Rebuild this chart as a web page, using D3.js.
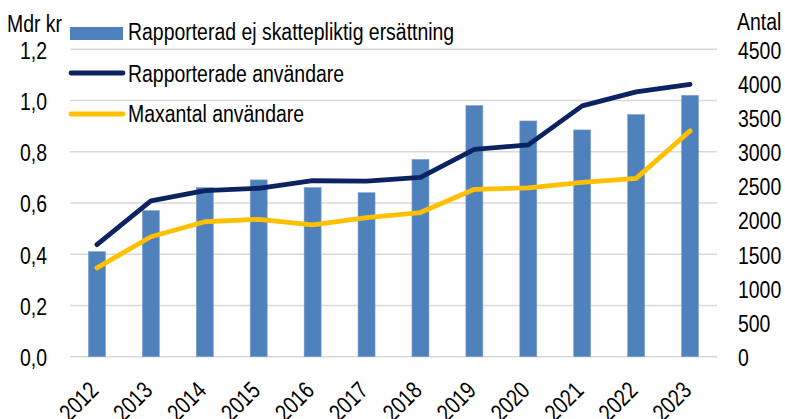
<!DOCTYPE html>
<html>
<head>
<meta charset="utf-8">
<script src="https://cdn.jsdelivr.net/npm/d3@7"></script>
<style>
  html, body { margin: 0; padding: 0; background: #fff; }
  svg { display: block; }
  text { font-family: "Liberation Sans", Arial, sans-serif; fill: #000; }
</style>
</head>
<body>
<svg id="chart" width="785" height="419"></svg>
<script>
const years = ["2012","2013","2014","2015","2016","2017","2018","2019","2020","2021","2022","2023"];
const ersattning = [0.41, 0.57, 0.66, 0.69, 0.66, 0.64, 0.77, 0.98, 0.92, 0.885, 0.945, 1.02];
const rapporterade = [1640, 2280, 2430, 2465, 2575, 2570, 2625, 3035, 3100, 3670, 3875, 3985];
const maxantal = [1300, 1755, 1975, 2010, 1930, 2035, 2110, 2450, 2470, 2550, 2610, 3305];
const leftTicks = [0, 0.2, 0.4, 0.6, 0.8, 1.0, 1.2];
const rightTicks = [0, 500, 1000, 1500, 2000, 2500, 3000, 3500, 4000, 4500];
const seriesNames = ["Rapporterad ej skattepliktig ersättning", "Rapporterade användare", "Maxantal användare"];
const leftTitle = "Mdr kr";
const rightTitle = "Antal";

const colors = { bar: "#4f81bd", dark: "#0b2461", yellow: "#ffc000", grid: "#d9d9d9" };
const fs = 24;
const sx = 0.81; // horizontal condensing to mimic a narrow typeface

const svg = d3.select("#chart");
const plot = { left: 70, right: 717, top: 49.2, bottom: 356.7 };

const x = d3.scaleBand().domain(years).range([plot.left, plot.right]).padding(0);
const yL = d3.scaleLinear().domain([0, 1.2]).range([plot.bottom, plot.top]);
const yR = d3.scaleLinear().domain([0, 4500]).range([plot.bottom, plot.top]);

const loc = d3.formatLocale({ decimal: ",", thousands: "", grouping: [3], currency: ["", ""] });
const fmtL = loc.format(".1f");
const fmtR = loc.format("d");

const tr = (px, py, rot) => `translate(${px},${py})` + (rot ? ` rotate(${rot})` : "") + ` scale(${sx},1)`;

// gridlines
svg.append("g").selectAll("line").data(leftTicks).join("line")
  .attr("x1", plot.left).attr("x2", plot.right)
  .attr("y1", d => yL(d)).attr("y2", d => yL(d))
  .attr("stroke", colors.grid).attr("stroke-width", 1.5);

// left axis labels
svg.append("g").selectAll("text").data(leftTicks).join("text")
  .attr("transform", d => tr(47, yL(d) + 1)).attr("dy", "0.35em")
  .attr("text-anchor", "end").style("font-size", fs + "px")
  .text(d => fmtL(d));

// right axis labels
svg.append("g").selectAll("text").data(rightTicks).join("text")
  .attr("transform", d => tr(738, yR(d) + 1)).attr("dy", "0.35em")
  .attr("text-anchor", "start").style("font-size", fs + "px")
  .text(d => fmtR(d));

// titles
svg.append("text").attr("transform", tr(7, 32)).style("font-size", fs + "px").text(leftTitle);
svg.append("text").attr("transform", tr(737, 30)).style("font-size", fs + "px").text(rightTitle);

// bars
const bw = x.bandwidth() * 0.315;
svg.append("g").selectAll("rect").data(years).join("rect")
  .attr("x", (d) => x(d) + x.bandwidth() / 2 - bw / 2)
  .attr("width", bw)
  .attr("y", (d, i) => yL(ersattning[i]))
  .attr("height", (d, i) => yL(0) - yL(ersattning[i]))
  .attr("fill", colors.bar)
  .attr("stroke", "#7ea1cf").attr("stroke-width", 0.6);

// lines
const cx = d => x(d) + x.bandwidth() / 2;
const line = d3.line().x(d => cx(d[0])).y(d => yR(d[1]));
svg.append("path").datum(years.map((y, i) => [y, rapporterade[i]]))
  .attr("d", line).attr("fill", "none").attr("stroke", colors.dark)
  .attr("stroke-width", 4.8).attr("stroke-linecap", "round").attr("stroke-linejoin", "round");
svg.append("path").datum(years.map((y, i) => [y, maxantal[i]]))
  .attr("d", line).attr("fill", "none").attr("stroke", colors.yellow)
  .attr("stroke-width", 4.8).attr("stroke-linecap", "round").attr("stroke-linejoin", "round");

// x labels
svg.append("g").selectAll("text").data(years).join("text")
  .attr("transform", d => tr(cx(d) - 3, 386, -45))
  .attr("dy", "0.35em").attr("text-anchor", "end")
  .style("font-size", fs + "px").text(d => d);

// legend
const lg = svg.append("g");
lg.append("rect").attr("x", 70).attr("y", 27).attr("width", 53).attr("height", 13).attr("fill", colors.bar);
lg.append("line").attr("x1", 71).attr("x2", 123).attr("y1", 73).attr("y2", 73)
  .attr("stroke", colors.dark).attr("stroke-width", 4.8).attr("stroke-linecap", "round");
lg.append("line").attr("x1", 71).attr("x2", 123).attr("y1", 114).attr("y2", 114)
  .attr("stroke", colors.yellow).attr("stroke-width", 4.8).attr("stroke-linecap", "round");
const legY = [40, 81.5, 122];
lg.selectAll("text.leg").data(seriesNames).join("text").attr("class", "leg")
  .attr("transform", (d, i) => tr(128, legY[i]))
  .style("font-size", fs + "px").text(d => d);
</script>
</body>
</html>
